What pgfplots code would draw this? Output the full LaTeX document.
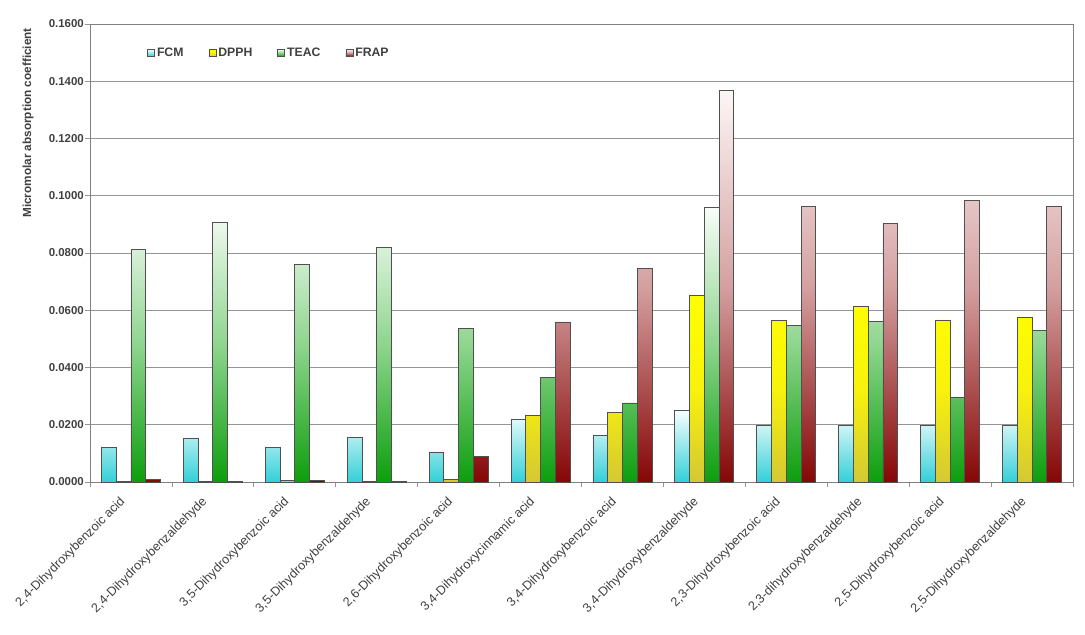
\documentclass[border=0pt]{standalone}
\usepackage{pgfplots}
\pgfplotsset{compat=1.18}
\usepackage{pgfplotstable}
\usepackage{fontspec}
\setmainfont{Liberation Sans}
\definecolor{txt}{HTML}{404040}
\definecolor{fcmT}{HTML}{F6FEFE}
\definecolor{fcmB}{HTML}{33D0D8}
\definecolor{dpT}{HTML}{FFFF00}
\definecolor{dpM}{HTML}{F8F20C}
\definecolor{dpB}{HTML}{D4C834}
\definecolor{teT}{HTML}{F8FCF8}
\definecolor{teM}{HTML}{8ED58E}
\definecolor{teB}{HTML}{0C9E0C}
\definecolor{frT}{HTML}{FCF6F6}
\definecolor{frM}{HTML}{D4A0A0}
\definecolor{frB}{HTML}{850606}
\definecolor{edge}{HTML}{505050}
\definecolor{gridc}{HTML}{959595}

\pgfplotstableread{
x FCM DPPH TEAC FRAP
0 0.0121 0.0002 0.0813 0.0010
1 0.0153 0.0002 0.0908 0.0002
2 0.0122 0.0004 0.0760 0.0005
3 0.0155 0.0002 0.0820 0.0003
4 0.0105 0.0010 0.0536 0.0090
5 0.0218 0.0233 0.0364 0.0559
6 0.0162 0.0242 0.0276 0.0747
7 0.0249 0.0653 0.0959 0.1367
8 0.0199 0.0565 0.0548 0.0964
9 0.0196 0.0615 0.0562 0.0903
10 0.0198 0.0566 0.0296 0.0984
11 0.0196 0.0574 0.0530 0.0962
}\data

\begin{document}
\begin{tikzpicture}
\begin{axis}[
  scale only axis, width=983bp, height=458bp,
  ybar=0pt, bar width=0.18,
  xmin=-0.5, xmax=11.5, ymin=0, ymax=0.16,
  ytick={0,0.02,0.04,0.06,0.08,0.1,0.12,0.14,0.16},
  y tick label style={/pgf/number format/fixed, /pgf/number format/fixed zerofill, /pgf/number format/precision=4, /pgf/number format/assume math mode=true,
    font=\bfseries\fontsize{11.5}{12}\selectfont, text=txt, inner sep=1.5bp},
  xtick={-0.5,0.5,...,11.5}, xticklabels={},
  extra x ticks={0,1,2,3,4,5,6,7,8,9,10,11},
  extra x tick labels={{2,4-Dihydroxybenzoic acid},{2,4-Dihydroxybenzaldehyde},{3,5-Dihydroxybenzoic acid},{3,5-Dihydroxybenzaldehyde},{2,6-Dihydroxybenzoic acid},{3,4-Dihydroxycinnamic acid},{3,4-Dihydroxybenzoic acid},{3,4-Dihydroxybenzaldehyde},{2,3-Dihydroxybenzoic acid},{2,3-dihydroxybenzaldehyde},{2,5-Dihydroxybenzoic acid},{2,5-Dihydroxybenzaldehyde}},
  extra x tick style={major tick length=0pt, grid=none,
    tick label style={rotate=45, anchor=north east, font=\fontsize{12.7}{13}\selectfont, text=txt, inner sep=1bp, xshift=-17bp}},
  tick align=outside, tick pos=left, major tick length=4.5bp,
  tick style={draw=gridc, line width=0.8bp},
  ymajorgrids, major grid style={draw=gridc, line width=0.8bp},
  axis line style={draw=gray, line width=0.8bp},
  ylabel={Micromolar absorption coefficient},
  ylabel style={at={(axis description cs:-0.063,0.784)}, anchor=center, font=\bfseries\fontsize{11.8}{12}\selectfont, text=txt},
  legend style={at={(0.058,0.937)}, anchor=west, draw=none, fill=none, legend columns=4,
    font=\bfseries\fontsize{12.3}{13}\selectfont, text=txt, inner sep=0pt,
    /tikz/every even column/.append style={column sep=23bp}},
  legend image code/.code={\draw[#1] (0bp,-3.5bp) rectangle (7bp,3.5bp);},
]
\addplot[draw=edge, line width=0.8bp, top color=fcmT, bottom color=fcmB] table[x=x,y=FCM]{\data};
\addplot[draw=edge, line width=0.8bp, top color=dpT, bottom color=dpB, middle color=dpM] table[x=x,y=DPPH]{\data};
\addplot[draw=edge, line width=0.8bp, top color=teT, bottom color=teB, middle color=teM] table[x=x,y=TEAC]{\data};
\addplot[draw=edge, line width=0.8bp, top color=frT, bottom color=frB, middle color=frM] table[x=x,y=FRAP]{\data};
\legend{FCM,DPPH,TEAC,FRAP}
\end{axis}
\pgfresetboundingbox
\path (current axis.south west) ++(-90bp,-153bp) rectangle ([xshift=12bp,yshift=24bp]current axis.north east);
\end{tikzpicture}
\end{document}
